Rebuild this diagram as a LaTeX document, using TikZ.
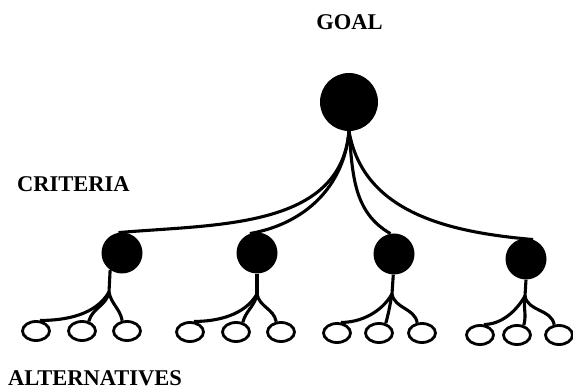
\documentclass[tikz,border=0pt]{standalone}
\usepackage{fontspec}
\setmainfont{Liberation Serif}
\usetikzlibrary{positioning, shapes.geometric}
\tikzset{goalnode/.style={circle, fill=black, minimum size=58pt, inner sep=0pt}}
\tikzset{critnode/.style={circle, fill=black, minimum size=41pt, inner sep=0pt}}
\tikzset{altnode/.style={ellipse, draw=black, line width=2.8pt, minimum width=27pt, minimum height=19pt, inner sep=0pt}}
\tikzset{link/.style={line width=3.1pt, black}}
\tikzset{level/.style={font=\fontsize{22.5}{26}\selectfont\bfseries, inner sep=0pt}}

\begin{document}
\begin{tikzpicture}[x=1pt, y=1pt]
		\useasboundingbox (0,0) rectangle (573,390);
		\node[goalnode] (goal) at (349,288) {};
		\node[level, anchor=base] (goaltext) at (349.5,360) {GOAL};
		\node[level, anchor=base west] (crittext) at (17,198.5) {CRITERIA};
		\node[level, anchor=base west] (alttext) at (8,4) {ALTERNATIVES};
		\foreach \i/\x/\y/\a/\sx/\sy/\oy/\ax/\bx/\cx in {1/122/137/-125/109/98/59/36/82/127, 2/257/137/-90/257/96/58/190/236/281, 3/394/136/-92/392/96/57/337/379/422, 4/526/131/-90/525/94/55/480/517/559} {
			\node[critnode] (c\i) at (\x,\y) {};
			\coordinate (s\i) at (\sx,\sy);
			\node[altnode] (a\i1) at (\ax,\oy) {};
			\node[altnode] (a\i2) at (\bx,\oy) {};
			\node[altnode] (a\i3) at (\cx,\oy) {};
			\draw[link] (c\i.\a) -- (s\i);
			\draw[link] (s\i) to[out=-120, in=0, looseness=0.9] (a\i1.70);
			\draw[link] (s\i) to[out=-100, in=75] (a\i2.55);
			\draw[link] (s\i) to[out=-80, in=100] (a\i3.115);
		}
		\draw[link] (goal.south) to[out=-95, in=5] (c1.100);
		\draw[link] (goal.south) to[out=-95, in=10] (c2.110);
		\draw[link] (goal.south) to[out=-85, in=150] (c3.100);
		\draw[link] (goal.south) to[out=-80, in=175] (c4.70);
	\end{tikzpicture}
\end{document}
